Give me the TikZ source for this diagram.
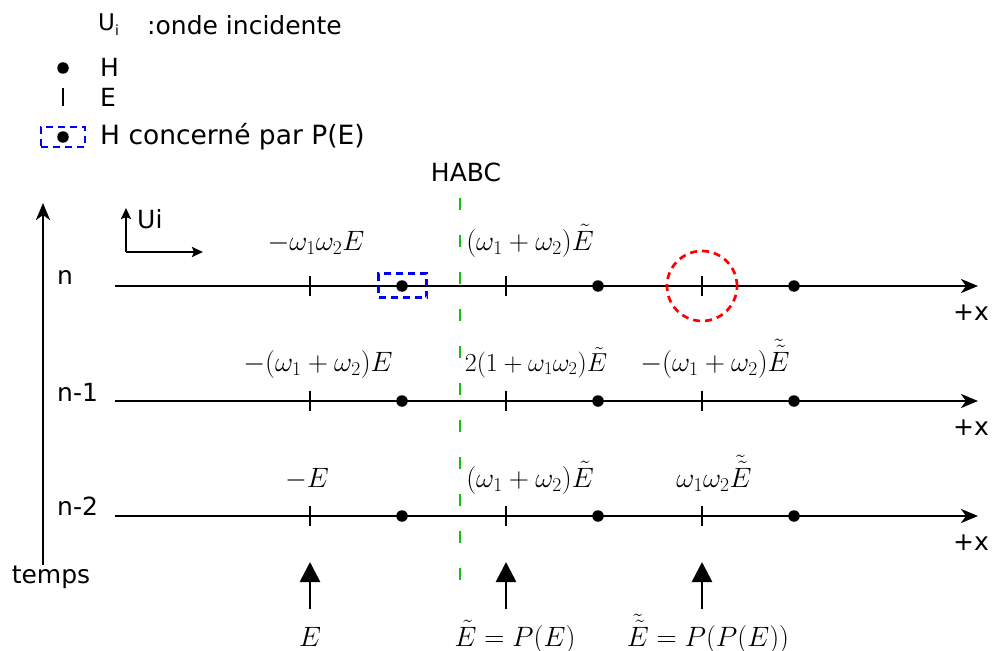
\RequirePackage{fix-cm}
\documentclass[tikz,border=0pt]{standalone}
\usepackage[no-math]{fontspec}
\newfontfamily\dvs{DejaVu Sans}
\usetikzlibrary{arrows.meta}
\begin{document}
\begin{tikzpicture}[x=1pt,y=-1pt,
  axisline/.style={line width=2.7pt,-{Stealth[length=17pt,width=14pt,inset=5pt]}},
  tickmark/.style={line width=2.7pt},
  hdot/.style={circle,fill=black,inner sep=0pt,minimum size=11.5pt},
  txt/.style={font=\dvs\fontsize{25}{30}\selectfont,inner sep=0pt},
  mlbl/.style={font=\fontsize{28}{33}\selectfont,inner sep=0pt,anchor=base},
  bigarrow/.style={line width=2.7pt,-{Triangle[length=20pt,width=20pt]}},
  habc/.style={line width=2.7pt,draw={rgb,255:red,20;green,190;blue,20},dash pattern=on 12pt off 25pt},
  bluebox/.style={line width=2.7pt,draw=blue,dash pattern=on 7pt off 5pt},
  redcirc/.style={line width=2.7pt,draw=red,dash pattern=on 7pt off 5pt}]
\useasboundingbox (0,0) rectangle (992,650);

% legend
\node[anchor=west,inner sep=0pt,font=\dvs\fontsize{23}{27}\selectfont] (lgU) at (98,25) {U\raisebox{-0.4ex}{\fontsize{14}{16}\selectfont i}};
\node[txt,anchor=west] (lgUt) at (147,25) {:onde incidente};
\node[hdot] (lgH) at (63,68) {};
\node[txt,anchor=west] (lgHt) at (100,67) {H};
\coordinate (lgEa) at (63,88);
\coordinate (lgEb) at (63,106);
\draw[tickmark] (lgEa) -- (lgEb);
\node[txt,anchor=west] (lgEt) at (100,97) {E};
\node[hdot] (lgP) at (63,137) {};
\node[bluebox,minimum width=44pt,minimum height=20pt,inner sep=0pt] (lgPbox) at (63,137) {};
\node[txt,anchor=west,font=\dvs\fontsize{26.5}{30}\selectfont] (lgPt) at (100,137) {H concern\'e par P(E)};

% HABC
\node[txt] (habclbl) at (466,172) {HABC};
\coordinate (habcT) at (460,198);
\coordinate (habcB) at (460,586);
\draw[habc] (habcT) -- (habcB);

% time axis
\coordinate (tB) at (43,565);
\coordinate (tT) at (43,203);
\draw[axisline] (tB) -- (tT);
\node[txt] (temps) at (51,577) {temps};
\node[txt,anchor=west] (rn) at (57,277) {n};
\node[txt,anchor=west] (rn1) at (57,392) {n-1};
\node[txt,anchor=west] (rn2) at (57,506) {n-2};

% Ui arrows
\coordinate (uiC) at (126,252);
\coordinate (uiT) at (126,208);
\coordinate (uiR) at (203,252);
\draw[line width=2.7pt,-{Stealth[length=11pt,width=10pt,inset=2pt]}] (uiC) -- (uiT);
\draw[line width=2.7pt,-{Stealth[length=11pt,width=10pt,inset=2pt]}] (uiC) -- (uiR);
\node[txt,anchor=west] (uilbl) at (137,219) {Ui};

% rows
\foreach \r/\y in {n/286,m/401,k/516}{
  \coordinate (s\r) at (115,\y);
  \coordinate (e\r) at (978,\y);
  \draw[axisline] (s\r) -- (e\r);
  \foreach \i/\x in {1/310,2/506,3/702}{
    \coordinate (ta\r\i) at (\x,\y-10);
    \coordinate (tb\r\i) at (\x,\y+10);
    \draw[tickmark] (ta\r\i) -- (tb\r\i);
  }
  \foreach \i/\x in {1/402,2/598,3/794}{
    \node[hdot] (h\r\i) at (\x,\y) {};
  }
  \node[txt] (px\r) at (971,\y+27) {+x};
}

% highlight marks
\node[bluebox,minimum width=48pt,minimum height=24pt,inner sep=0pt] (pbox) at (402.5,285.5) {};
\node[redcirc,circle,minimum size=70pt,inner sep=0pt] (rcirc) at (702,286) {};

% row labels
\node[mlbl] (ln1) at (316,250) {$-\omega_1\omega_2E$};
\node[mlbl] (ln2) at (530,250) {$(\omega_1+\omega_2)\tilde{E}$};
\node[mlbl] (lm1) at (318,371) {$-(\omega_1+\omega_2)E$};
\node[mlbl,font=\fontsize{26}{31}\selectfont] (lm2) at (536,371) {$2(1+\omega_1\omega_2)\tilde{E}$};
\node[mlbl] (lm3) at (715,371) {$-(\omega_1+\omega_2)\tilde{\tilde{E}}$};
\node[mlbl] (lk1) at (307,487) {$-E$};
\node[mlbl] (lk2) at (530,487) {$(\omega_1+\omega_2)\tilde{E}$};
\node[mlbl] (lk3) at (714,487) {$\omega_1\omega_2\tilde{\tilde{E}}$};

% bottom arrows
\foreach \i/\x in {1/310,2/506,3/702}{
  \coordinate (ba\i) at (\x,609);
  \coordinate (bb\i) at (\x,562);
  \draw[bigarrow] (ba\i) -- (bb\i);
}
\node[mlbl] (b1) at (310,646) {$E$};
\node[mlbl] (b2) at (515,646) {$\tilde{E}=P(E)$};
\node[mlbl] (b3) at (708,646) {$\tilde{\tilde{E}}=P(P(E))$};
\end{tikzpicture}
\end{document}
